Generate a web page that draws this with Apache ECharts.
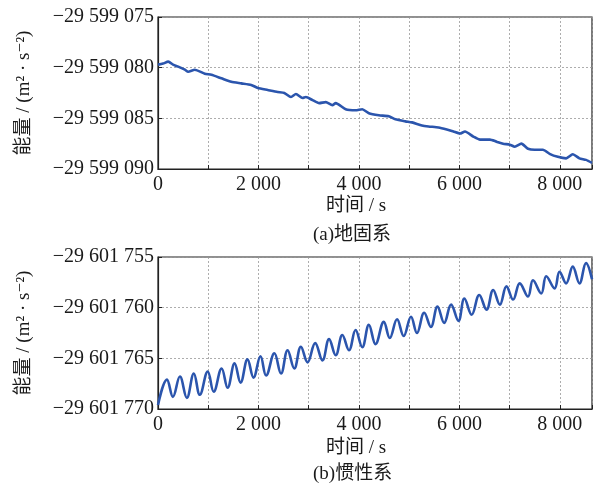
<!DOCTYPE html>
<html>
<head>
<meta charset="utf-8">
<script src="https://cdn.jsdelivr.net/npm/echarts@6/dist/echarts.min.js"></script>
<style>
html,body{margin:0;padding:0;background:#fff;}
#chart{width:595px;height:486px;}
</style>
</head>
<body>
<div id="chart"></div>
<script>
// ---- Data (a) earth-fixed frame ----
var timesA = [0, 100, 204, 300, 402, 535, 600, 733, 931, 1063, 1261, 1459, 1657, 1855, 1987, 2184, 2382, 2515, 2647, 2746, 2878, 2944, 3076, 3208, 3340, 3472, 3538, 3736, 3934, 4066, 4198, 4396, 4594, 4726, 4924, 5056, 5254, 5386, 5584, 5749, 5881, 6013, 6112, 6277, 6410, 6607, 6739, 6871, 7003, 7102, 7234, 7366, 7498, 7663, 7796, 7960, 8125, 8257, 8390, 8521, 8640];
var energyA = [-29599079.7, -29599079.6, -29599079.4, -29599079.7, -29599079.9, -29599080.2, -29599080.4, -29599080.2, -29599080.6, -29599080.7, -29599081.05, -29599081.4, -29599081.55, -29599081.7, -29599082.0, -29599082.2, -29599082.4, -29599082.5, -29599082.9, -29599082.6, -29599083.0, -29599082.9, -29599083.2, -29599083.5, -29599083.4, -29599083.7, -29599083.5, -29599084.1, -29599084.2, -29599084.1, -29599084.5, -29599084.7, -29599084.8, -29599085.1, -29599085.3, -29599085.4, -29599085.7, -29599085.8, -29599085.9, -29599086.1, -29599086.3, -29599086.5, -29599086.3, -29599086.8, -29599087.1, -29599087.1, -29599087.3, -29599087.5, -29599087.6, -29599087.8, -29599087.5, -29599088.0, -29599088.1, -29599088.1, -29599088.5, -29599088.8, -29599088.95, -29599088.55, -29599088.95, -29599089.1, -29599089.4];

// ---- Data (b) inertial frame ----
var timesB = [0, 178, 297, 436, 574, 713, 832, 990, 1109, 1267, 1386, 1525, 1644, 1782, 1901, 2040, 2152, 2317, 2449, 2580, 2713, 2845, 2977, 3129, 3274, 3406, 3538, 3670, 3802, 3934, 4066, 4198, 4330, 4495, 4614, 4759, 4891, 5036, 5155, 5300, 5432, 5564, 5697, 5835, 5980, 6100, 6244, 6396, 6540, 6673, 6805, 6937, 7069, 7202, 7366, 7465, 7630, 7729, 7895, 7994, 8125, 8257, 8390, 8521, 8640];
var energyB = [-29601769.6, -29601767.1, -29601768.8, -29601766.8, -29601768.9, -29601766.5, -29601768.6, -29601766.3, -29601768.3, -29601766.0, -29601767.9, -29601765.5, -29601767.4, -29601765.1, -29601766.9, -29601764.8, -29601766.7, -29601764.5, -29601766.5, -29601764.2, -29601766.0, -29601763.85, -29601765.4, -29601763.5, -29601765.2, -29601763.1, -29601764.7, -29601762.7, -29601764.2, -29601762.2, -29601763.9, -29601761.7, -29601763.6, -29601761.4, -29601763.0, -29601761.15, -29601762.8, -29601760.9, -29601762.5, -29601760.5, -29601761.9, -29601759.9, -29601761.5, -29601759.7, -29601761.3, -29601759.1, -29601760.7, -29601758.75, -29601760.2, -29601758.25, -29601759.7, -29601757.9, -29601759.2, -29601757.6, -29601758.9, -29601757.3, -29601758.6, -29601756.9, -29601758.1, -29601756.45, -29601757.6, -29601755.95, -29601757.6, -29601755.6, -29601757.2];

// ---- Axis settings ----
var xMin = 0, xMax = 8640, xStep = 1000, xLabelStep = 2000;
var yRangeA = [-29599090, -29599075];
var yRangeB = [-29601770, -29601755];
var yStep = 5;
var yAxisTitle = '能量 / (m² · s⁻²)';
var xAxisTitle = '时间 / s';
var captionA = '(a)地固系';
var captionB = '(b)惯性系';

var SERIF = '"Liberation Serif", "DejaVu Serif", "Noto Sans CJK SC", serif';
var TXT = '#1a1a1a';
var LINE = '#2b55ad';

function fmtNum(v) {
  var neg = v < 0;
  var s = Math.round(Math.abs(v)).toString();
  s = s.replace(/\B(?=(\d{3})+(?!\d))/g, ' ');
  return (neg ? '\u2212' : '') + s;
}
function pairs(t, e) { return t.map(function (v, i) { return [v, e[i]]; }); }

function xAxisCfg(gi, gap) {
  return {
    type: 'value', gridIndex: gi, min: xMin, max: xMax, interval: xStep,
    name: xAxisTitle, nameLocation: 'middle', nameGap: gap,
    nameTextStyle: { fontFamily: SERIF, fontSize: 19, color: TXT, padding: [0, 38, 0, 0] },
    axisLine: { show: true, lineStyle: { color: '#222', width: 1.2 } },
    axisTick: { show: true, inside: true, length: 4, lineStyle: { color: '#222' } },
    axisLabel: {
      margin: 6, fontFamily: SERIF, fontSize: 20, color: TXT,
      formatter: function (v) { return (v % xLabelStep === 0) ? fmtNum(v) : ''; }
    },
    splitLine: { show: true, lineStyle: { color: '#999', width: 0.8, type: [2, 2] } }
  };
}
function yAxisCfg(gi, range) {
  return {
    type: 'value', gridIndex: gi, min: range[0], max: range[1], interval: yStep,
    name: yAxisTitle, nameLocation: 'middle', nameGap: 124, nameRotate: 90,
    nameTextStyle: { fontFamily: SERIF, fontSize: 19, color: TXT },
    axisLine: { show: true, lineStyle: { color: '#222', width: 1.2 } },
    axisTick: { show: true, inside: true, length: 4, lineStyle: { color: '#222' } },
    axisLabel: { margin: 4, fontFamily: SERIF, fontSize: 20, color: TXT, formatter: fmtNum },
    splitLine: { show: true, lineStyle: { color: '#999', width: 0.8, type: [2, 2] } }
  };
}

var chart = echarts.init(document.getElementById('chart'), null, { renderer: 'canvas' });
chart.setOption({
  backgroundColor: '#ffffff',
  animation: false,
  grid: [
    { left: 158, right: 1, top: 17, height: 152, show: true, borderColor: '#222', borderWidth: 1.2 },
    { left: 158, right: 1, top: 257, height: 152, show: true, borderColor: '#222', borderWidth: 1.2 }
  ],
  xAxis: [xAxisCfg(0, 28), xAxisCfg(1, 30)],
  yAxis: [yAxisCfg(0, yRangeA), yAxisCfg(1, yRangeB)],
  graphic: [
    { type: 'text', left: 313, top: 226, style: { text: captionA, font: '19px ' + SERIF, fill: TXT } },
    { type: 'text', left: 313, top: 465, style: { text: captionB, font: '19px ' + SERIF, fill: TXT } }
  ],
  series: [
    { type: 'line', xAxisIndex: 0, yAxisIndex: 0, data: pairs(timesA, energyA), symbol: 'none',
      smooth: 0.2, lineStyle: { color: LINE, width: 2.6 } },
    { type: 'line', xAxisIndex: 1, yAxisIndex: 1, data: pairs(timesB, energyB), symbol: 'none',
      smooth: 0.4, lineStyle: { color: LINE, width: 2.6 } }
  ]
});
</script>
</body>
</html>
